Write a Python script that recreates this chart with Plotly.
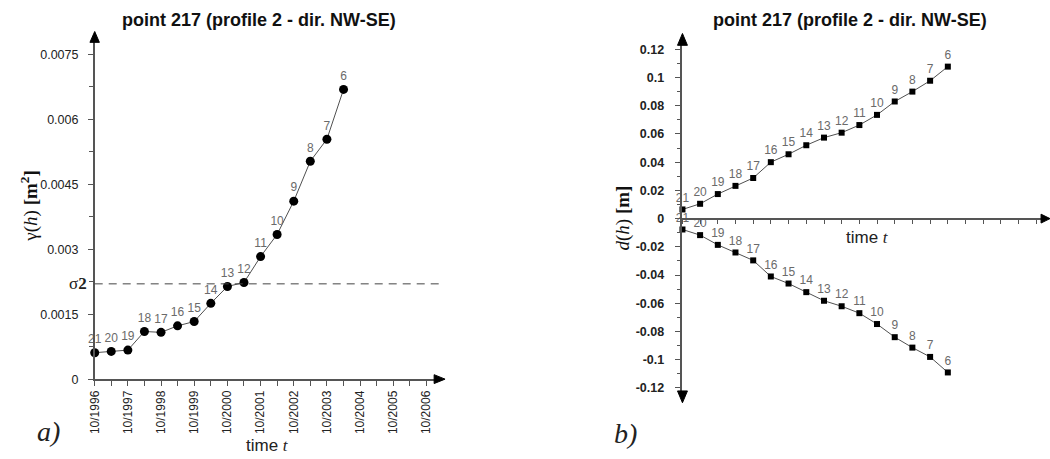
import plotly.graph_objects as go

# ---------------- data ----------------
dates = ["1996-10-01", "1997-04-01", "1997-10-01", "1998-04-01", "1998-10-01",
         "1999-04-01", "1999-10-01", "2000-04-01", "2000-10-01", "2001-04-01",
         "2001-10-01", "2002-04-01", "2002-10-01", "2003-04-01", "2003-10-01",
         "2004-04-01"]
point_ids = ["21", "20", "19", "18", "17", "16", "15", "14", "13", "12",
             "11", "10", "9", "8", "7", "6"]
gamma = [0.00061, 0.00064, 0.00067, 0.00110, 0.00108, 0.00123, 0.00133, 0.00175,
         0.00214, 0.00223, 0.00283, 0.00334, 0.00411, 0.00503, 0.00554, 0.00669]
d_up = [0.0065, 0.0105, 0.0174, 0.0232, 0.0288, 0.0400, 0.0456, 0.0520,
        0.0574, 0.0609, 0.0663, 0.0735, 0.0830, 0.0900, 0.0977, 0.1077]
d_down = [-0.0077, -0.0117, -0.0186, -0.0240, -0.0296, -0.0410, -0.0460, -0.0521,
          -0.0582, -0.0621, -0.0670, -0.0747, -0.0840, -0.0914, -0.0980, -0.1090]
SIGMA2 = 0.0022

gamma_ticks = [0, 0.0015, 0.003, 0.0045, 0.006, 0.0075]
gamma_ticktext = ["0", "0.0015", "0.003", "0.0045", "0.006", "0.0075"]
d_ticks = [0.12, 0.1, 0.08, 0.06, 0.04, 0.02, 0, -0.02, -0.04, -0.06, -0.08, -0.1, -0.12]
d_ticktext = ["0.12", "0.1", "0.08", "0.06", "0.04", "0.02", "0",
              "-0.02", "-0.04", "-0.06", "-0.08", "-0.1", "-0.12"]
title_text = "point 217 (profile 2 - dir. NW-SE)"

# ---------------- layout helpers ----------------
W, H = 1050, 459
def px(x):
    return x / W
def py(y):
    return 1 - y / H

AXC = "#555555"
LINEC = "#505050"
LBLC = "#6a6a6a"
SANS = "Liberation Sans, Arial, sans-serif"
SERIF = "Liberation Serif, Times New Roman, serif"

fig = go.Figure()

# left chart
fig.add_trace(go.Scatter(
    x=dates, y=gamma, mode="lines+markers+text", text=point_ids,
    textposition="top center", textfont=dict(size=12, color=LBLC, family=SANS),
    line=dict(color=LINEC, width=1), marker=dict(symbol="circle", size=9, color="black"),
    cliponaxis=False, xaxis="x", yaxis="y", showlegend=False))

# right chart
for series in (d_up, d_down):
    fig.add_trace(go.Scatter(
        x=dates, y=series, mode="lines+markers+text", text=point_ids,
        textposition="top center", textfont=dict(size=12, color=LBLC, family=SANS),
        line=dict(color=LINEC, width=1), marker=dict(symbol="square", size=6, color="black"),
        cliponaxis=False, xaxis="x2", yaxis="y2", showlegend=False))

fig.update_layout(
    width=W, height=H, margin=dict(l=0, r=0, t=0, b=0, pad=0),
    paper_bgcolor="white", plot_bgcolor="white",
    font=dict(family=SANS, color="#222222"),
    xaxis=dict(
        domain=[px(88.3), px(436)], range=["1996-10-01", "2007-02-28"],
        type="date", tick0="1996-10-01", dtick="M12", tickformat="%m/%Y",
        tickangle=-90, tickfont=dict(size=12, color="#222222"),
        ticklabelstandoff=0,
        showline=True, linecolor=AXC, linewidth=1.5,
        ticks="outside", ticklen=5, tickcolor=AXC,
        minor=dict(dtick="M6", tick0="1996-10-01", ticks="outside", ticklen=5, tickcolor=AXC),
        showgrid=False, zeroline=False, anchor="y", fixedrange=True),
    yaxis=dict(
        domain=[py(385), py(38)], range=[0, 0.00789],
        tickvals=gamma_ticks, ticktext=gamma_ticktext,
        tickfont=dict(size=12.5, color="#222222"),
        ticklabelstandoff=7,
        showline=True, linecolor=AXC, linewidth=1.5,
        ticks="outside", ticklen=5, tickcolor=AXC,
        minor=dict(dtick=0.00075, tick0=0, ticks="outside", ticklen=4, tickcolor=AXC),
        showgrid=False, zeroline=False, anchor="x"),
    xaxis2=dict(
        domain=[px(680), px(1044)], range=["1996-10-01", "2006-12-20"],
        type="date", tick0="1996-10-01", dtick="M6", showticklabels=False,
        showline=True, linecolor=AXC, linewidth=1.5,
        ticks="outside", ticklen=5, tickcolor=AXC,
        showgrid=False, zeroline=False, anchor="free", position=py(222)),
    yaxis2=dict(
        domain=[py(402), py(41)], range=[-0.1256, 0.1263],
        tickvals=d_ticks, ticktext=d_ticktext,
        tickfont=dict(size=12.5, color="#222222", family="Liberation Sans, Arial", weight="bold"),
        ticklabelstandoff=8,
        showline=True, linecolor=AXC, linewidth=1.5,
        ticks="outside", ticklen=6, tickcolor=AXC,
        minor=dict(dtick=0.01, tick0=0, ticks="outside", ticklen=4, tickcolor=AXC),
        showgrid=False, zeroline=False, anchor="x2"),
)

# sigma^2 dashed line
fig.add_shape(type="line", xref="x domain", yref="y", x0=0, x1=1, y0=SIGMA2, y1=SIGMA2,
              line=dict(color="#444444", width=1, dash="8px,6px"))

# arrowheads (axis decorations)
def tri(tip, b1, b2):
    return "M {} {} L {} {} L {} {} Z".format(px(tip[0]), py(tip[1]), px(b1[0]), py(b1[1]),
                                              px(b2[0]), py(b2[1]))
arrows = [
    tri((88.3, 32), (83.5, 43), (93, 43)),
    tri((441, 385), (430, 380.5), (430, 389.5)),
    tri((680, 34), (675, 46), (685, 46)),
    tri((680, 409), (675, 397), (685, 397)),
    tri((1050, 222), (1041, 217.5), (1041, 226.5)),
]
for p in arrows:
    fig.add_shape(type="path", xref="paper", yref="paper", path=p,
                  fillcolor="black", line=dict(color="black", width=1))

# text annotations
ann = []
ann.append(dict(x=px(254), y=py(20), text="<b>" + title_text + "</b>",
                font=dict(size=18, family=SANS, color="#111111")))
ann.append(dict(x=px(849), y=py(20), text="<b>" + title_text + "</b>",
                font=dict(size=18, family=SANS, color="#111111")))
ann.append(dict(x=px(23), y=py(209), text="γ(<i>h</i>) <b>[m<sup>2</sup>]</b>", textangle=-90,
                font=dict(size=19, family=SERIF, color="#111111")))
ann.append(dict(x=px(620), y=py(221), text="<i>d</i>(<i>h</i>) <b>[m]</b>", textangle=-90,
                font=dict(size=19, family=SERIF, color="#111111")))
ann.append(dict(x=px(262), y=py(452), text="time <i><span style='font-family:Liberation Serif'>t</span></i>",
                font=dict(size=17, family=SANS, color="#222222")))
ann.append(dict(x=px(866), y=py(241), text="time <i><span style='font-family:Liberation Serif'>t</span></i>",
                font=dict(size=17, family=SANS, color="#222222")))
ann.append(dict(x=px(42), y=py(438), text="<i>a)</i>",
                font=dict(size=28, family=SERIF, color="#222222")))
ann.append(dict(x=px(623), y=py(440), text="<i>b)</i>",
                font=dict(size=28, family=SERIF, color="#222222")))
ann.append(dict(x=px(83), y=SIGMA2, yref="y", xanchor="right", yanchor="middle",
                text="σ<b>2</b>", font=dict(size=17, family=SERIF, color="#222222")))
for a in ann:
    a.setdefault("xref", "paper")
    a.setdefault("yref", "paper")
    a.setdefault("showarrow", False)
    a.setdefault("xanchor", "center")
    a.setdefault("yanchor", "middle")
    fig.add_annotation(**a)

fig.write_html("out.html")
